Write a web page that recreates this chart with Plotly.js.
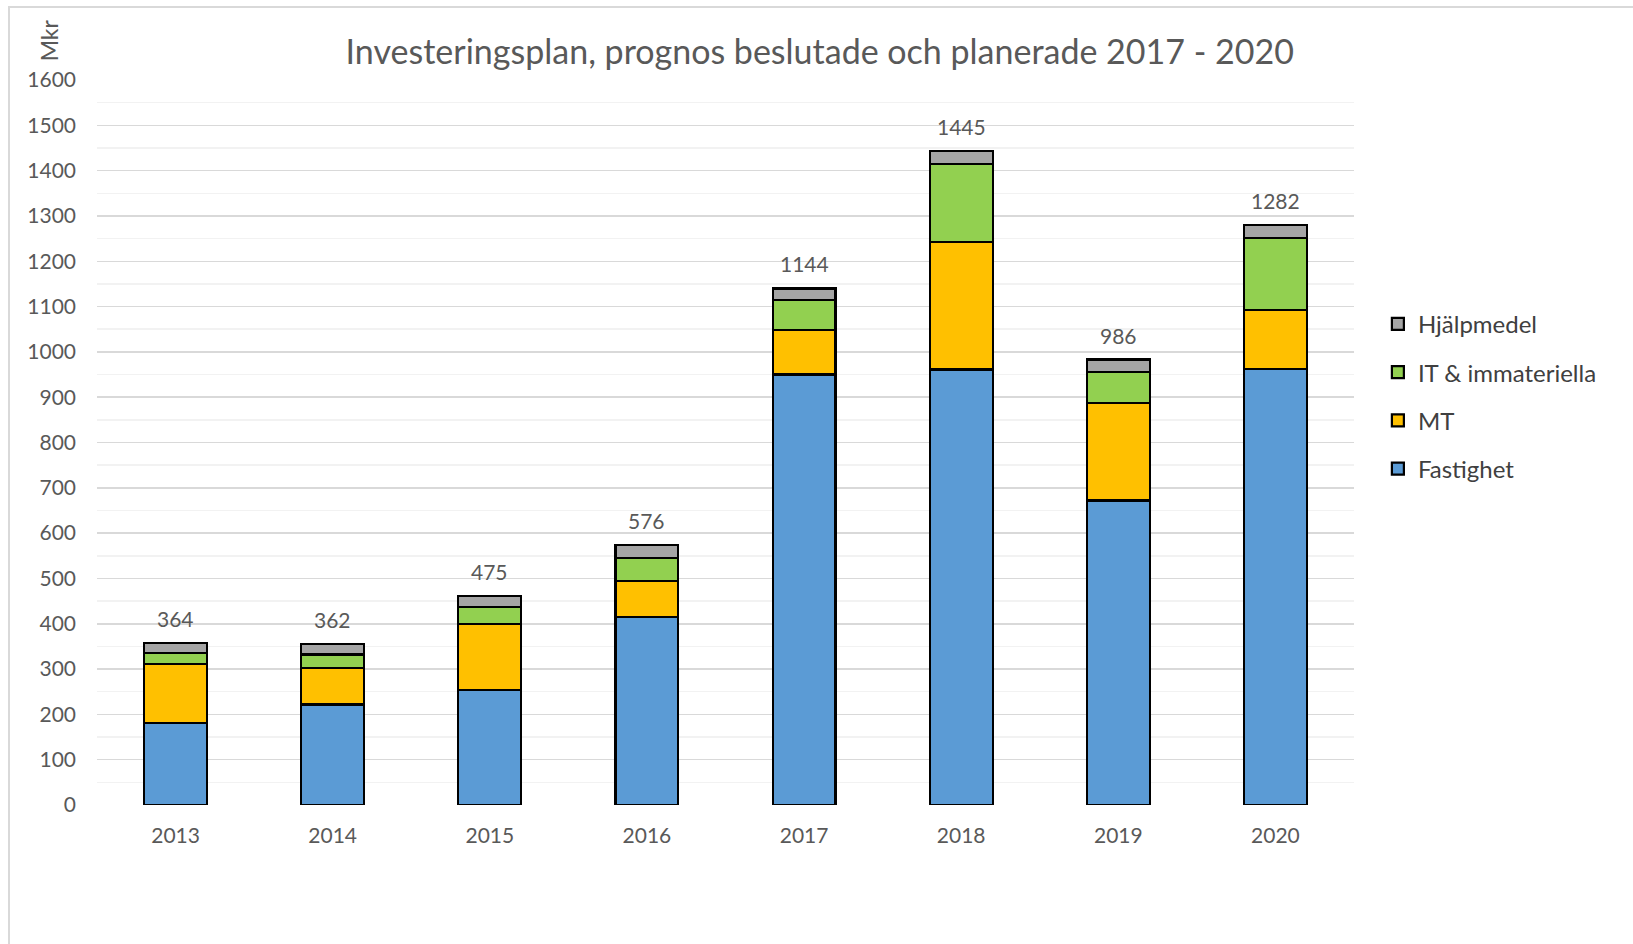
<!DOCTYPE html>
<html>
<head>
<meta charset="utf-8">
<script src="https://cdn.plot.ly/plotly-3.0.1.min.js"></script>
<style>
  html, body { margin: 0; padding: 0; background: #ffffff; }
  #chart { width: 1633px; height: 944px; position: absolute; left: 0; top: 0; }
  #frame { position: absolute; left: 8px; top: 6px; width: 1640px; height: 960px;
           border: 2px solid #d9d9d9; pointer-events: none; box-sizing: border-box; }
</style>
</head>
<body>
<div id="chart"></div>
<div id="frame"></div>
<script>
// ---- data ----
const years = ["2013", "2014", "2015", "2016", "2017", "2018", "2019", "2020"];
const fastighet = [181, 222, 253, 415, 950, 961, 672, 963];
const mt = [130, 81, 147, 79, 99, 282, 215, 129];
const itImm = [25, 29, 37, 51, 65, 172, 68, 160];
const hjalpmedel = [21, 23, 25, 28, 26, 29, 28, 28];
const totalLabels = ["364", "362", "475", "576", "1144", "1445", "986", "1282"];
const yTicks = [0, 100, 200, 300, 400, 500, 600, 700, 800, 900, 1000, 1100, 1200, 1300, 1400, 1500, 1600];

const FONT = "Lato, 'Open Sans', sans-serif";
const lineStyle = { color: "#000000", width: 2.2 };

function barTrace(name, values, color, rank) {
  return {
    type: "bar",
    name: name,
    x: years,
    y: values,
    legendgroup: name,
    legendrank: rank,
    marker: { color: color, line: lineStyle },
    hoverinfo: "x+y+name"
  };
}

const traces = [
  barTrace("Fastighet", fastighet, "#5B9BD5", 4),
  barTrace("MT", mt, "#FFC000", 3),
  barTrace("IT & immateriella", itImm, "#92D050", 2),
  barTrace("Hjälpmedel", hjalpmedel, "#A5A5A5", 1)
];

const stackTops = years.map((_, i) => fastighet[i] + mt[i] + itImm[i] + hjalpmedel[i]);

// category axis: annotation x given as the category's serial index
const annotations = years.map((yr, i) => ({
  x: i, y: stackTops[i], xref: "x", yref: "y",
  text: totalLabels[i], showarrow: false,
  yanchor: "bottom", yshift: 10,
  font: { family: FONT, size: 21, color: "#595959" }
}));

annotations.push({
  xref: "paper", yref: "paper",
  x: -0.038, y: 1.055,
  text: "Mkr", textangle: -90, showarrow: false,
  xanchor: "center", yanchor: "middle",
  font: { family: FONT, size: 23, color: "#595959" }
});

const layout = {
  width: 1633, height: 944,
  paper_bgcolor: "#ffffff", plot_bgcolor: "#ffffff",
  margin: { l: 97, r: 279, t: 80, b: 139, pad: 0 },
  barmode: "stack",
  bargap: 0.6,
  title: {
    text: "Investeringsplan, prognos beslutade och planerade 2017 - 2020",
    x: 0.502, xref: "container", xanchor: "center",
    y: 0.945, yref: "container", yanchor: "middle",
    font: { family: FONT, size: 34, color: "#595959" }
  },
  xaxis: {
    type: "category",
    categoryarray: years,
    range: [-0.5, years.length - 0.5],
    autorange: false,
    tickfont: { family: FONT, size: 21, color: "#595959" },
    showgrid: false, zeroline: false, showline: false,
    ticks: "", ticklabelstandoff: 16
  },
  yaxis: {
    range: [0, 1600],
    autorange: false,
    tickvals: yTicks,
    ticktext: yTicks.map(String),
    tickfont: { family: FONT, size: 21, color: "#595959" },
    showgrid: true, gridcolor: "#d9d9d9", gridwidth: 1.5,
    minor: { dtick: 50, showgrid: true, gridcolor: "#f2f2f2", gridwidth: 1.5 },
    zeroline: false, showline: false, ticks: "",
    ticklabelstandoff: 20
  },
  legend: {
    x: 1.019, xanchor: "left",
    y: 0.694, yanchor: "top",
    traceorder: "grouped",
    tracegroupgap: 14,
    font: { family: FONT, size: 24, color: "#404040" },
    bgcolor: "rgba(0,0,0,0)"
  },
  annotations: annotations,
  showlegend: true
};

Plotly.newPlot("chart", traces, layout, { displayModeBar: false, staticPlot: true });
</script>
</body>
</html>
